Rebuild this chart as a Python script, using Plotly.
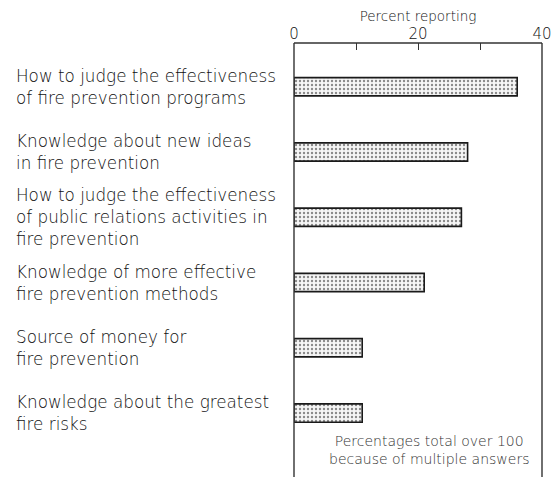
import plotly.graph_objects as go

categories = [
    "How to judge the effectiveness<br>of fire prevention programs",
    "Knowledge about new ideas<br>in fire prevention",
    "How to judge the effectiveness<br>of public relations activities in<br>fire prevention",
    "Knowledge of more effective<br>fire prevention methods",
    "Source of money for<br>fire prevention",
    "Knowledge about the greatest<br>fire risks",
]
values = [36, 28, 27, 21, 11, 11]
tick_vals = [0, 10, 20, 30, 40]
tick_text = ["0", "", "20", "", "40"]
axis_title = "Percent reporting"
note = "Percentages total over 100<br>because of multiple answers"

FONT = "DejaVu Sans"
INK = "#111111"
FRAME = "#333333"

fig = go.Figure(
    go.Bar(
        x=values,
        y=categories,
        orientation="h",
        width=0.28,
        marker=dict(
            color="#ececec",
            line=dict(color="#1a1a1a", width=1.6),
            pattern=dict(shape=".", fgcolor="#8a8a8a", bgcolor="#f6f6f6",
                         size=4, solidity=0.28, fillmode="replace"),
        ),
        hoverinfo="skip",
    )
)

for cat in categories:
    fig.add_annotation(
        x=-1.129, xref="paper", y=cat, yref="y",
        text=cat, showarrow=False, xanchor="left", yanchor="middle",
        align="left", font=dict(family=FONT, size=16.8, color=INK, weight=200),
    )

fig.add_annotation(
    x=21.8, xref="x", y=0.063, yref="paper",
    text=note, showarrow=False, xanchor="center", yanchor="middle",
    align="center", font=dict(family=FONT, size=14, color="#333", weight=200),
)

# frame: top, left and right edges of the plotting area
for x0, y0, x1, y1 in [(0, 1, 1, 1), (0, 0, 0, 1), (1, 0, 1, 1)]:
    fig.add_shape(type="line", xref="paper", yref="paper",
                  x0=x0, y0=y0, x1=x1, y1=y1,
                  line=dict(color=FRAME, width=1.4))

fig.update_layout(
    width=543, height=469,
    margin=dict(l=286, r=9, t=35, b=0, autoexpand=False),
    paper_bgcolor="white", plot_bgcolor="white",
    showlegend=False,
    xaxis=dict(
        side="top", range=[0, 40], tickvals=tick_vals, ticktext=tick_text,
        ticks="inside", ticklen=7, tickcolor=FRAME, tickwidth=1.2,
        showline=False, showgrid=False, zeroline=False, automargin=False,
        ticklabeloverflow="allow",
        tickfont=dict(family=FONT, size=15, color=INK, weight=200),
        title=dict(text=axis_title, font=dict(family=FONT, size=13.5, color=INK, weight=200), standoff=10),
    ),
    yaxis=dict(
        categoryorder="array", categoryarray=categories,
        range=[5.98, -0.67], showticklabels=False, ticks="",
        showline=False, showgrid=False, zeroline=False, automargin=False,
    ),
)

fig.write_html("out.html")
